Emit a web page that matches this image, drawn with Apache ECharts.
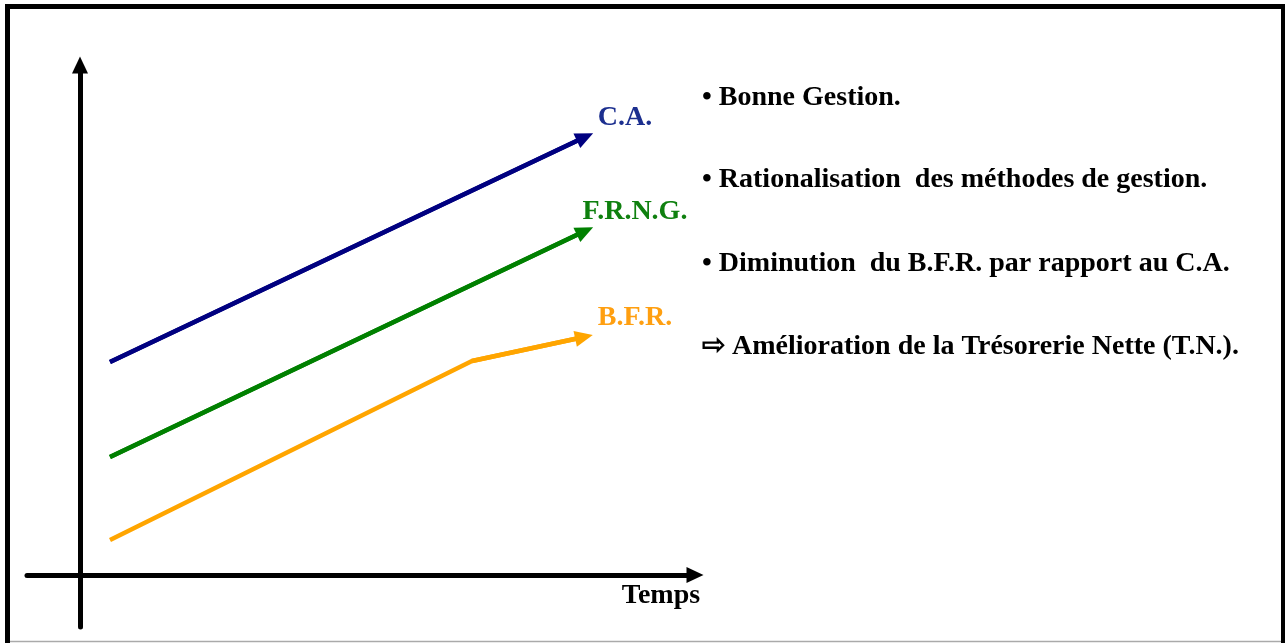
<!DOCTYPE html>
<html>
<head>
<meta charset="utf-8">
<script src="https://cdn.jsdelivr.net/npm/echarts@6/dist/echarts.min.js"></script>
<style>
html,body{margin:0;padding:0;background:#fff;}
#chart{width:1285px;height:643px;}
</style>
</head>
<body>
<div id="chart"></div>
<script>
// Abstract units (time on x, amount on y), origin at the axes' crossing.
const seriesNames = ['C.A.', 'F.R.N.G.', 'B.F.R.'];
const caPoints   = [[3.0, 21.3], [50.5, 43.8]];
const frngPoints = [[3.0, 11.8], [50.5, 34.4]];
const bfrPoints  = [[3.0, 3.5], [39.2, 21.4], [50.4, 23.8]];
const lineColors = ['#000080', '#008000', '#FFA500'];
const labelColors = ['#1c2f8f', '#0f800f', '#FF9F10'];
const xAxisName = 'Temps';
const notes = [
  '\u2022 Bonne Gestion.',
  '\u2022 Rationalisation  des méthodes de gestion.',
  '\u2022 Diminution  du B.F.R. par rapport au C.A.',
  '\u21E8 Amélioration de la Trésorerie Nette (T.N.).'
];

const FONT = 'bold 28px "Liberation Serif", "Times New Roman", serif';
const allPoints = [caPoints, frngPoints, bfrPoints];

const chart = echarts.init(document.getElementById('chart'), null, {renderer: 'canvas'});

function makeSeries(i) {
  const pts = allPoints[i];
  const n = pts.length;
  return {
    name: seriesNames[i],
    type: 'line',
    data: pts,
    showSymbol: false,
    symbol: 'none',
    silent: true,
    lineStyle: {color: lineColors[i], width: 4.5, cap: 'butt', join: 'round'},
    emphasis: {disabled: true},
    markLine: {
      silent: true,
      animation: false,
      symbol: ['none', 'triangle'],
      symbolSize: [16, 18],
      label: {show: false},
      lineStyle: {color: lineColors[i], width: 4.5, type: 'solid'},
      data: [[{coord: pts[n - 2]}, {coord: pts[n - 1]}]]
    }
  };
}

const option = {
  animation: false,
  backgroundColor: '#fff',
  grid: {left: 27, top: 65, width: 668, height: 562, containLabel: false},
  xAxis: {
    type: 'value', min: -5.3, max: 61.5,
    axisLine: {show: true, onZero: true, symbol: ['none', 'triangle'], symbolSize: [16, 17],
      lineStyle: {color: '#000', width: 5}},
    axisTick: {show: false}, axisLabel: {show: false}, splitLine: {show: false}
  },
  yAxis: {
    type: 'value', min: -5.2, max: 51,
    axisLine: {show: true, onZero: true, symbol: ['none', 'triangle'], symbolSize: [16, 17],
      lineStyle: {color: '#000', width: 5}},
    axisTick: {show: false}, axisLabel: {show: false}, splitLine: {show: false}
  },
  series: [makeSeries(0), makeSeries(1), makeSeries(2)]
};
chart.setOption(option);

// Labels anchored to the arrow ends, computed through the chart scales
const labelOffsets = [[40, -19], [50, -19], [51, -19]];
const graphics = [];
for (let i = 0; i < 3; i++) {
  const pts = allPoints[i];
  const p = chart.convertToPixel({gridIndex: 0}, pts[pts.length - 1]);
  graphics.push({
    type: 'text', silent: true,
    style: {
      text: seriesNames[i], x: p[0] + labelOffsets[i][0], y: p[1] + labelOffsets[i][1],
      font: FONT, fill: labelColors[i], textAlign: 'center', textVerticalAlign: 'middle',
      align: 'center', verticalAlign: 'middle'
    }
  });
}
const axEnd = chart.convertToPixel({gridIndex: 0}, [61.5, 0]);
graphics.push({
  type: 'text', silent: true,
  style: {text: xAxisName, x: axEnd[0] - 34, y: axEnd[1] + 21, font: FONT, fill: '#000',
    textAlign: 'center', textVerticalAlign: 'middle', align: 'center', verticalAlign: 'middle'}
});
const noteY = [98, 180, 264, 347];
notes.forEach((t, k) => {
  graphics.push({
    type: 'text', silent: true,
    style: {text: t, x: 702, y: noteY[k], font: FONT, fill: '#000',
      textAlign: 'left', textVerticalAlign: 'middle', align: 'left', verticalAlign: 'middle'}
  });
});
// Frame
graphics.push({type: 'rect', silent: true,
  shape: {x: 7.5, y: 6.5, width: 1276, height: 700},
  style: {fill: null, stroke: '#000', lineWidth: 5}});
graphics.push({type: 'line', silent: true,
  shape: {x1: 10, y1: 641.5, x2: 1281, y2: 641.5},
  style: {stroke: '#aaaaaa', lineWidth: 1.5}});

chart.setOption({graphic: {elements: graphics}});
</script>
</body>
</html>
